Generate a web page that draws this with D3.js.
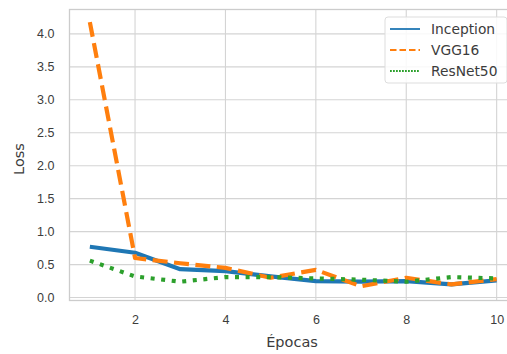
<!DOCTYPE html>
<html>
<head>
<meta charset="utf-8">
<script src="https://cdn.jsdelivr.net/npm/d3@7"></script>
<style>
  body { margin: 0; background: #fff; }
  svg { display: block; font-family: "DejaVu Sans", sans-serif; }
</style>
</head>
<body>
<svg id="canvas" width="507" height="354"></svg>
<script>
var epochs = [1, 2, 3, 4, 5, 6, 7, 8, 9, 10];
var inception = [0.77, 0.68, 0.43, 0.40, 0.32, 0.25, 0.24, 0.25, 0.20, 0.26];
var vgg16 = [4.18, 0.60, 0.52, 0.45, 0.30, 0.42, 0.17, 0.30, 0.20, 0.28];
var resnet50 = [0.56, 0.32, 0.24, 0.31, 0.31, 0.29, 0.27, 0.24, 0.31, 0.29];
var xTicks = [2, 4, 6, 8, 10];
var yTicks = [0, 0.5, 1, 1.5, 2, 2.5, 3, 3.5, 4];

var series = [
  {name: "Inception", values: inception, color: "#1f77b4", dash: null},
  {name: "VGG16", values: vgg16, color: "#ff7f0e", dash: "15,6.5"},
  {name: "ResNet50", values: resnet50, color: "#2ca02c", dash: "4,6.6"}
];

var margin = {top: 9.5, left: 69.5, right: -10, bottom: 53.5};
var width = 507 - margin.left - margin.right;
var height = 354 - margin.top - margin.bottom;

var svg = d3.select("#canvas");
var g = svg.append("g").attr("transform", "translate(" + margin.left + "," + margin.top + ")");

var x = d3.scaleLinear().domain([0.55, 10.45]).range([0, width]);
var y = d3.scaleLinear().domain([-0.045, 4.37]).range([height, 0]);

// grid
g.selectAll(".xgrid").data(xTicks).enter().append("line")
  .attr("x1", function(d) { return x(d); }).attr("x2", function(d) { return x(d); })
  .attr("y1", 0).attr("y2", height)
  .attr("stroke", "#d4d4d4").attr("stroke-width", 1.1);
g.selectAll(".ygrid").data(yTicks).enter().append("line")
  .attr("x1", 0).attr("x2", width)
  .attr("y1", function(d) { return y(d); }).attr("y2", function(d) { return y(d); })
  .attr("stroke", "#d4d4d4").attr("stroke-width", 1.1);

// frame
g.append("rect").attr("x", 0).attr("y", 0).attr("width", width).attr("height", height)
  .attr("fill", "none").attr("stroke", "#cccccc").attr("stroke-width", 1.3);

// axes
var xAxis = d3.axisBottom(x).tickValues(xTicks).tickSize(0).tickPadding(15).tickFormat(d3.format("d"));
var gx = g.append("g").attr("transform", "translate(0," + height + ")").call(xAxis);
var yAxis = d3.axisLeft(y).tickValues(yTicks).tickSize(0).tickPadding(15).tickFormat(d3.format(".1f"));
var gy = g.append("g").call(yAxis);
[gx, gy].forEach(function(a) {
  a.select(".domain").remove();
  a.selectAll("text").attr("fill", "#3c3c3c").style("font-size", "12.5px");
});

// lines
var line = d3.line()
  .x(function(d, i) { return x(epochs[i]); })
  .y(function(d) { return y(d); });

series.forEach(function(s) {
  g.append("path").datum(s.values)
    .attr("d", line)
    .attr("fill", "none")
    .attr("stroke", s.color)
    .attr("stroke-width", 4.2)
    .attr("stroke-dasharray", s.dash)
    .attr("stroke-linejoin", "round");
});

// labels
svg.append("text").text("Épocas")
  .attr("x", 292).attr("y", 347)
  .attr("text-anchor", "middle").attr("fill", "#3c3c3c").style("font-size", "14.5px");
svg.append("text").text("Loss")
  .attr("transform", "translate(23.5,159) rotate(-90)")
  .attr("text-anchor", "middle").attr("fill", "#3c3c3c").style("font-size", "14.5px");

// legend
var leg = svg.append("g").attr("transform", "translate(385,17)");
leg.append("rect").attr("width", 122).attr("height", 66).attr("rx", 3)
  .attr("fill", "#fff").attr("fill-opacity", 0.85)
  .attr("stroke", "#dddddd").attr("stroke-width", 1);
series.forEach(function(s, i) {
  var yy = 12 + i * 21;
  leg.append("line").attr("x1", 5).attr("x2", 35).attr("y1", yy).attr("y2", yy)
    .attr("stroke", s.color).attr("stroke-width", 1.8)
    .attr("stroke-dasharray", s.dash ? (i === 1 ? "6.5,3" : "1.8,1.2") : null);
  leg.append("text").text(s.name).attr("x", 46).attr("y", yy + 5)
    .attr("fill", "#3c3c3c").style("font-size", "13.8px");
});
</script>
</body>
</html>
